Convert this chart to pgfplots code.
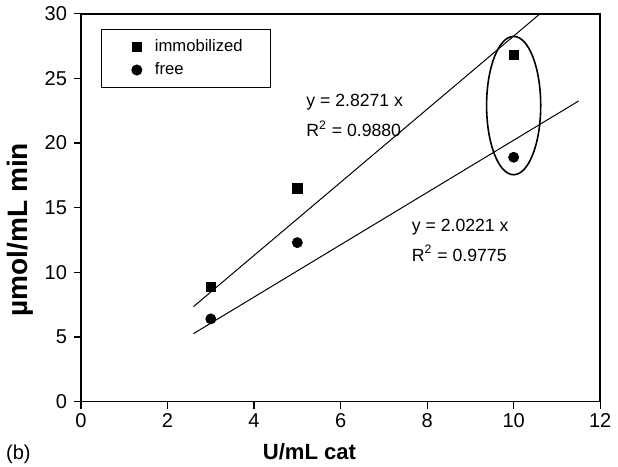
\documentclass[border=0pt]{standalone}
\usepackage{fontspec}
\setmainfont{Liberation Sans}
\usepackage{pgfplots}
\pgfplotsset{compat=1.18}
\pgfplotsset{legmark/.style={legend image code/.code={\path[draw=none,fill=none] (-5.5pt,-0.1pt) rectangle (3pt,0.1pt); \draw[##1] plot coordinates {(0pt,0pt)};}}}

\begin{document}
\begin{tikzpicture}
\begin{axis}[
    scale only axis,
    width=259pt, height=193.5pt,
    xmin=0, xmax=12, ymin=0, ymax=30,
    xtick={0,2,...,12}, ytick={0,5,...,30},
    xtick pos=bottom, ytick pos=left,
    tick align=outside,
    major tick length=3.5pt,
    axis line style={line width=0.8pt},
    every tick/.style={line width=0.6pt, black},
    /pgf/number format/assume math mode=true,
    ticklabel style={font=\fontsize{10}{11}\selectfont},
    xticklabel style={yshift=1pt},
    xlabel={\textbf{U/mL cat}},
    ylabel={\textbf{µmol/mL min}},
    xlabel style={font=\fontsize{11}{13}\selectfont, at={(ticklabel cs:0.44)}, yshift=-1pt},
    ylabel style={font=\fontsize{14}{16}\selectfont, at={(ticklabel cs:0.443)}, yshift=-1pt},
    legend style={at={(0.039,0.961)}, anchor=north west, draw=black,
        line width=0.5pt, font=\fontsize{8.3}{10}\selectfont,
        inner xsep=12pt, inner ysep=3pt, row sep=0pt, column sep=4pt,
        cells={anchor=west}},
    legend cell align=left,
    clip=false,
]
% data points
\addplot[only marks, mark=square*, mark size=2.3pt, black, legmark]
    coordinates {(3,8.9) (5,16.5) (10,26.8)};
\addlegendentry{immobilized}
\addplot[only marks, mark=*, mark size=2.5pt, black, legmark]
    coordinates {(3,6.4) (5,12.3) (10,18.9)};
\addlegendentry{free}
% trend lines
\addplot[black, line width=0.5pt, forget plot] coordinates {(2.6,7.35) (10.61,30)};
\addplot[black, line width=0.5pt, forget plot] coordinates {(2.6,5.26) (11.5,23.25)};
% ellipse round the 10 U/mL points
\draw[line width=0.8pt] (axis cs:10,22.9) ellipse [x radius=13.5pt, y radius=34.5pt];
% equations
\node[anchor=west, font=\fontsize{8.8}{11}\selectfont, inner sep=0pt] at (axis cs:5.2,23.2) {y = 2.8271 x};
\node[anchor=west, font=\fontsize{8.8}{11}\selectfont, inner sep=0pt] at (axis cs:5.2,21.1) {R\textsuperscript{2} = 0.9880};
\node[anchor=west, font=\fontsize{8.8}{11}\selectfont, inner sep=0pt] at (axis cs:7.64,13.5) {y = 2.0221 x};
\node[anchor=west, font=\fontsize{8.8}{11}\selectfont, inner sep=0pt] at (axis cs:7.64,11.5) {R\textsuperscript{2} = 0.9775};
\node[anchor=base west, font=\fontsize{10}{11}\selectfont, inner sep=0pt] at (rel axis cs:-0.145,-0.15) {(b)};
\end{axis}
\end{tikzpicture}
\end{document}
